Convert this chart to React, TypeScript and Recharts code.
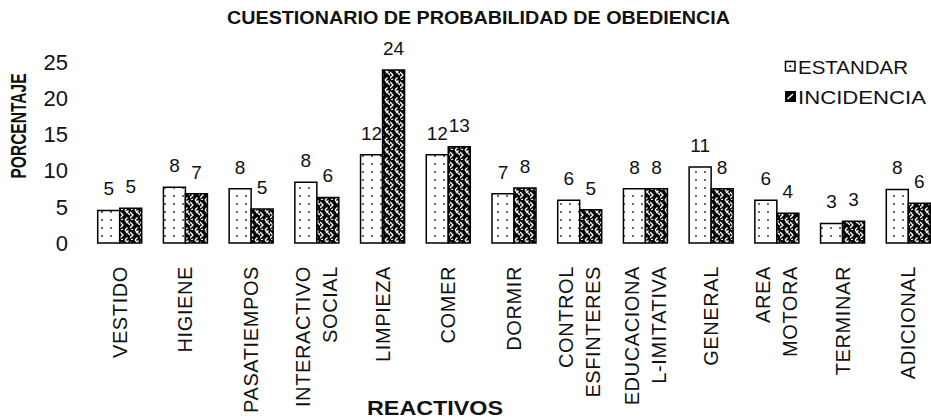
import React from 'react';
import { BarChart, Bar, XAxis, YAxis, Legend, LabelList, Customized } from 'recharts';

const categories = [
  'VESTIDO',
  'HIGIENE',
  'PASATIEMPOS',
  'INTERACTIVO\nSOCIAL',
  'LIMPIEZA',
  'COMER',
  'DORMIR',
  'CONTROL\nESFINTERES',
  'EDUCACIONA\nL-IMITATIVA',
  'GENERAL',
  'AREA\nMOTORA',
  'TERMINAR',
  'ADICIONAL',
];
const estandar = [4.5, 7.7, 7.5, 8.4, 12.2, 12.2, 6.8, 5.9, 7.5, 10.5, 5.9, 2.7, 7.4];
const incidencia = [4.8, 6.8, 4.7, 6.3, 23.9, 13.3, 7.6, 4.6, 7.5, 7.5, 4.1, 3.0, 5.5];
const estandarLabels = [5, 8, 8, 8, 12, 12, 7, 6, 8, 11, 6, 3, 8];
const incidenciaLabels = [5, 7, 5, 6, 24, 13, 8, 5, 8, 8, 4, 3, 6];
const yTicks = [0, 5, 10, 15, 20, 25];

const data = categories.map((name, i) => ({
  name,
  ESTANDAR: estandar[i],
  INCIDENCIA: incidencia[i],
  estandarLabel: String(estandarLabels[i]),
  incidenciaLabel: String(incidenciaLabels[i]),
}));

const FONT = '"Liberation Sans", Arial, Helvetica, sans-serif';
const INK = '#111';

const XTick = (props: any) => {
  const { x, y, payload } = props;
  const lines = String(payload.value).split('\n');
  const spacing = 27;
  return (
    <g>
      {lines.map((ln: string, i: number) => {
        const cx = x + (i - (lines.length - 1) / 2) * spacing;
        return (
          <text
            key={i}
            x={cx}
            y={y + 3}
            transform={`rotate(-90, ${cx}, ${y + 3})`}
            textAnchor="end"
            dy="0.36em"
            fontSize={20}
            letterSpacing={0.6}
            fontFamily={FONT}
            fill={INK}
          >
            {ln}
          </text>
        );
      })}
    </g>
  );
};

const LegendContent = (props: any) => {
  const payload = props.payload || [];
  const names = payload.length ? payload.map((p: any) => p.value) : ['ESTANDAR', 'INCIDENCIA'];
  return (
    <svg width={150} height={56} style={{ display: 'block' }}>
      <rect x={2.5} y={3.5} width={9.5} height={9.5} fill="#fff" stroke="#000" strokeWidth={1.5} />
      <circle cx={7.25} cy={8.25} r={1.1} fill="#000" />
      <text x={15} y={15.5} fontSize={18} textLength={110} lengthAdjust="spacingAndGlyphs" fontFamily={FONT} fill={INK}>
        {names[0]}
      </text>
      <rect x={2} y={33} width={11} height={11} fill="#000" />
      <line x1={4.5} y1={41} x2={10} y2={36} stroke="#fff" strokeWidth={1.6} />
      <text x={15} y={46} fontSize={19} textLength={128} lengthAdjust="spacingAndGlyphs" fontFamily={FONT} fill={INK}>
        {names[1]}
      </text>
    </svg>
  );
};

const Titles = () => (
  <g fontFamily={FONT} fill={INK}>
    <text
      x={478.5}
      y={24}
      textAnchor="middle"
      fontSize={19}
      fontWeight="bold"
      textLength={503}
      lengthAdjust="spacingAndGlyphs"
    >
      CUESTIONARIO DE PROBABILIDAD DE OBEDIENCIA
    </text>
    <text
      x={26}
      y={126}
      transform="rotate(-90, 26, 126)"
      textAnchor="middle"
      fontSize={22}
      fontWeight="bold"
      textLength={105}
      lengthAdjust="spacingAndGlyphs"
    >
      PORCENTAJE
    </text>
    <text
      x={435}
      y={415}
      textAnchor="middle"
      fontSize={21}
      fontWeight="bold"
      textLength={136}
      lengthAdjust="spacingAndGlyphs"
    >
      REACTIVOS
    </text>
  </g>
);

export default function App() {
  return (
    <div
      style={{
        position: 'absolute',
        left: 0,
        top: 0,
        width: 931,
        height: 419,
        overflow: 'hidden',
        background: '#fff',
      }}
    >
      <BarChart
        width={941}
        height={419}
        data={data}
        margin={{ top: 62, right: 0, bottom: 0, left: 0 }}
        barGap={0}
        barSize={22}
      >
        <defs>
          <pattern id="dots" patternUnits="userSpaceOnUse" width={9} height={8}>
            <rect x={0} y={0} width={9} height={8} fill="#fff" />
            <circle cx={3} cy={4} r={0.9} fill="#222" />
          </pattern>
          <pattern id="maze" patternUnits="userSpaceOnUse" width={10} height={10}>
            <rect x={0} y={0} width={10} height={10} fill="#050505" />
            <path
              d="M0,2 L3,5 L0,8 M5,0 L10,5 M5,10 L7.5,7.5 M6,3 L8.5,0.5 M3,9 L1,10"
              stroke="#fff"
              strokeWidth={1.3}
              fill="none"
            />
          </pattern>
        </defs>
        <XAxis
          dataKey="name"
          height={176}
          axisLine={false}
          tickLine={false}
          tickSize={0}
          tickMargin={20}
          interval={0}
          tick={<XTick />}
        />
        <YAxis
          width={86.7}
          domain={[0, 25]}
          ticks={yTicks}
          axisLine={false}
          tickLine={false}
          tickSize={0}
          tickMargin={18.7}
          tick={{ fontSize: 22, fill: INK, fontFamily: FONT }}
        />
        <Legend
          layout="horizontal"
          verticalAlign="middle"
          align="center"
          content={<LegendContent />}
          wrapperStyle={{ position: 'absolute', left: 783, top: 58, width: 150, height: 56 }}
        />
        <Bar dataKey="ESTANDAR" fill="url(#dots)" stroke="#000" strokeWidth={1.5} isAnimationActive={false}>
          <LabelList dataKey="estandarLabel" position="top" offset={15} fontSize={19} fill={INK} fontFamily={FONT} />
        </Bar>
        <Bar dataKey="INCIDENCIA" fill="url(#maze)" stroke="#000" strokeWidth={1.5} isAnimationActive={false}>
          <LabelList dataKey="incidenciaLabel" position="top" offset={15} fontSize={19} fill={INK} fontFamily={FONT} />
        </Bar>
        <Customized component={<Titles />} />
      </BarChart>
    </div>
  );
}
